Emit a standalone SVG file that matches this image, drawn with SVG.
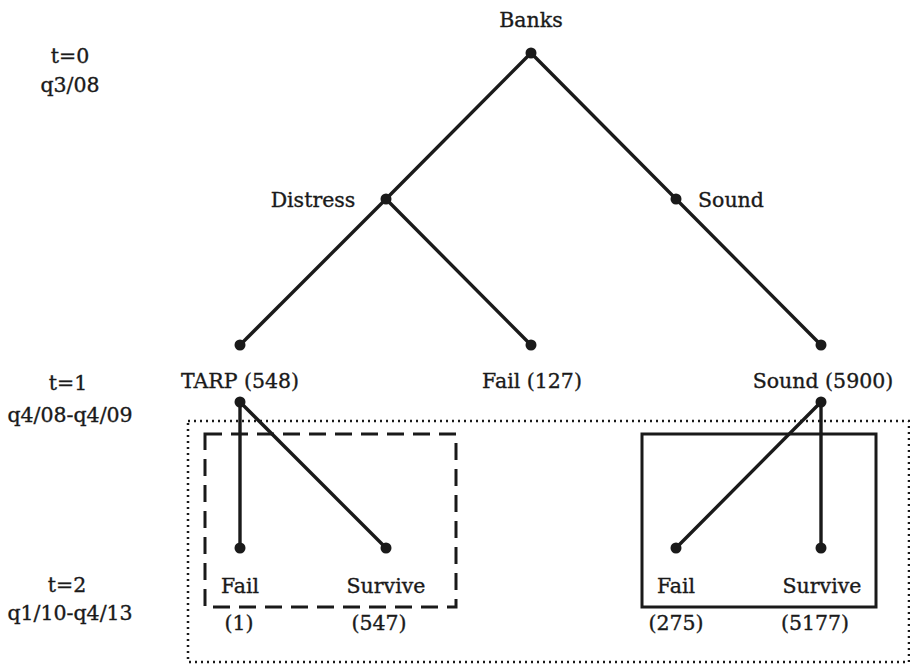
<svg xmlns="http://www.w3.org/2000/svg" width="910" height="667" viewBox="0 0 910 667">
<style>
text{font-family:"DejaVu Serif","Liberation Serif",serif;font-size:20.5px;fill:#1a1a1a;stroke:#1a1a1a;stroke-width:0.35;text-anchor:middle}
.e{stroke:#1a1a1a;stroke-width:3.4;fill:none;stroke-linecap:round}
.d{fill:#1a1a1a}
.box{fill:none;stroke:#1a1a1a;stroke-width:3}
</style>
<rect width="910" height="667" fill="#fff"/>
<g id="periods">
<text x="70" y="63">t=0</text>
<text x="70" y="92">q3/08</text>
<text x="68" y="390">t=1</text>
<text x="70" y="422">q4/08-q4/09</text>
<text x="67" y="592">t=2</text>
<text x="70" y="620">q1/10-q4/13</text>
</g>
<g id="frames">
<rect x="188" y="421" width="721" height="241" fill="none" stroke="#1a1a1a" stroke-width="2.5" stroke-dasharray="2 4"/>
<rect class="box" x="205" y="434" width="251" height="173" stroke-dasharray="17 9"/>
<rect class="box" x="642" y="434" width="234" height="173"/>
</g>
<g id="connectors">
<line class="e" x1="531" y1="53" x2="821" y2="345"/>
<line class="e" x1="531" y1="53" x2="386" y2="199"/>
<line class="e" x1="386" y1="199" x2="240" y2="345"/>
<line class="e" x1="386" y1="199" x2="531" y2="345"/>
<line class="e" x1="240" y1="402" x2="240" y2="548" stroke-width="2.8"/>
<line class="e" x1="240" y1="402" x2="386" y2="548" stroke-width="2.8"/>
<line class="e" x1="821" y1="402" x2="676" y2="548" stroke-width="2.8"/>
<line class="e" x1="821" y1="402" x2="821" y2="548" stroke-width="2.8"/>
</g>
<g id="banks"><circle class="d" cx="531" cy="53" r="5.5"/><text x="531" y="27">Banks</text></g>
<g id="distress"><circle class="d" cx="386" cy="199" r="5.5"/><text x="313" y="207">Distress</text></g>
<g id="sound"><circle class="d" cx="676" cy="199" r="5.5"/><text x="731" y="207">Sound</text></g>
<g id="tarp"><circle class="d" cx="240" cy="345" r="5.5"/><circle class="d" cx="240" cy="402" r="5.5"/><text x="240" y="388">TARP (548)</text></g>
<g id="fail1"><circle class="d" cx="531" cy="345" r="5.5"/><text x="532" y="388">Fail (127)</text></g>
<g id="sound1"><circle class="d" cx="821" cy="345" r="5.5"/><circle class="d" cx="821" cy="402" r="5.5"/><text x="823" y="388">Sound (5900)</text></g>
<g id="tarp-fail"><circle class="d" cx="240" cy="548" r="5.5"/><text x="240" y="593">Fail</text><text x="239" y="630">(1)</text></g>
<g id="tarp-survive"><circle class="d" cx="386" cy="548" r="5.5"/><text x="386" y="593">Survive</text><text x="379" y="630">(547)</text></g>
<g id="sound-fail"><circle class="d" cx="676" cy="548" r="5.5"/><text x="676" y="593">Fail</text><text x="676" y="630">(275)</text></g>
<g id="sound-survive"><circle class="d" cx="821" cy="548" r="5.5"/><text x="822" y="593">Survive</text><text x="815" y="630">(5177)</text></g>
</svg>
